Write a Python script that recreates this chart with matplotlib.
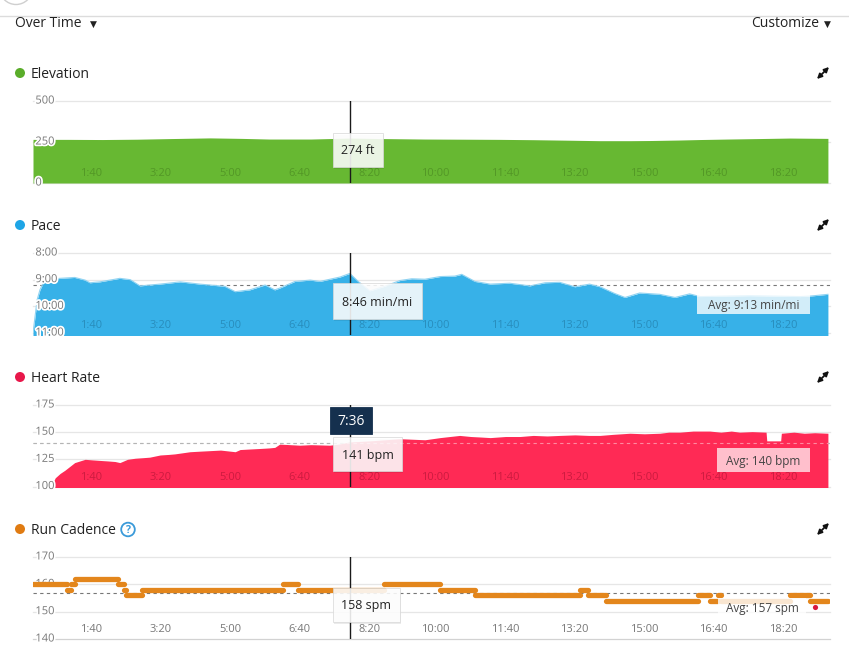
import matplotlib
matplotlib.use("Agg")
import matplotlib.pyplot as plt
import matplotlib.patheffects as pe
from matplotlib.patches import Rectangle, Circle

plt.rcParams['font.family'] = ['Open Sans', 'DejaVu Sans']

W, H = 849, 655

# ---- data (time in seconds from start)
time_ticks = [100, 200, 300, 400, 500, 600, 700, 800, 900, 1000, 1100]
time_labels = ['1:40', '3:20', '5:00', '6:40', '8:20', '10:00',
               '11:40', '13:20', '15:00', '16:40', '18:20']
cursor_t = 456          # 7:36
cursor_label = '7:36'

elev_t = [0, 50, 100, 150, 200, 255, 300, 340, 400, 456, 500, 564, 620,
          672, 720, 770, 816, 860, 888, 930, 960, 1000, 1046, 1089, 1144]
elev_ft = [266, 266, 265, 267, 271, 275, 272, 268, 268, 274, 271, 268, 267,
           266, 264, 261, 258, 258, 259, 262, 265, 268, 271, 274, 272]
elev_ticks = [0, 250, 500]

pace_t = [0, 6, 10, 17, 39, 60, 75, 82, 96, 118, 125, 140, 154, 183, 212,
          240, 276, 291, 312, 334, 348, 355, 377, 399, 413, 442, 456, 468,
          485, 506, 528, 545, 564, 586, 607, 617, 636, 658, 686, 715, 737,
          758, 780, 801, 816, 837, 852, 873, 902, 924, 945, 960, 1032, 1104,
          1118, 1144]
pace_str = ['11:00', '9:45', '9:23', '9:00', '8:57', '8:55', '9:01', '9:07',
            '9:05', '8:59', '8:57', '9:00', '9:14', '9:10', '9:05', '9:10',
            '9:15', '9:27', '9:23', '9:12', '9:23', '9:19', '9:04', '9:01',
            '9:04', '8:54', '8:46', '9:04', '9:25', '9:15', '9:02', '8:58',
            '8:59', '8:53', '8:52', '8:48', '9:04', '9:10', '9:08', '9:14',
            '9:07', '9:06', '9:16', '9:10', '9:16', '9:31', '9:40', '9:30',
            '9:33', '9:40', '9:32', '9:38', '9:36', '9:38', '9:37', '9:33']
pace_ticks = ['8:00', '9:00', '10:00', '11:00']
pace_avg = '9:13'

hr_t = [29, 32, 39, 46, 60, 75, 85, 96, 108, 118, 125, 136, 147, 158, 168,
        183, 195, 204, 215, 226, 240, 255, 270, 291, 298, 312, 327, 340, 348,
        355, 370, 384, 400, 427, 440, 456, 485, 528, 564, 575, 586, 600, 614,
        630, 645, 658, 680, 701, 720, 740, 758, 780, 800, 816, 835, 859, 880,
        902, 915, 931, 950, 974, 990, 1005, 1017, 1035, 1055, 1056, 1076,
        1077, 1095, 1110, 1125, 1144]
hr_bpm = [104, 108, 112, 115, 122, 125, 124.5, 124, 123.5, 123, 122, 125,
          126, 126.5, 127, 129, 129.5, 130, 131, 132, 132.5, 133, 133.5, 132,
          134, 134.5, 135, 135.5, 136, 139, 138.5, 138, 138.5, 138, 139, 141,
          142, 144, 143, 144, 145, 146, 147, 146, 145.5, 145, 146, 146, 147,
          146.5, 147, 147.5, 147, 147, 148, 149, 148.5, 149, 150, 150, 151,
          151, 150, 151, 150, 150.5, 150, 142, 142, 149, 150, 149, 149.5, 149]
hr_ticks = [100, 125, 150, 175]
hr_avg = 140

cad_start = [0, 49, 55, 60, 122, 131, 134, 157, 360, 381, 505, 586, 636, 787,
             799, 824, 957, 974, 986, 990, 1089, 1118]
cad_end = [49, 55, 60, 122, 131, 134, 157, 360, 381, 505, 586, 636, 787, 799,
           824, 957, 974, 986, 990, 1089, 1118, 1144]
cad_spm = [160, 158, 160, 162, 160, 158, 156, 158, 160, 158, 160, 158, 156,
           158, 156, 154, 156, 154, 156, 154, 156, 154]
cad_ticks = [140, 150, 160, 170]
cad_avg = 157
cad_marker_t, cad_marker_v = 1125, 151.7


def mmss(s):
    m, sec = s.split(':')
    return int(m) * 60 + int(sec)


fig = plt.figure(figsize=(W / 100, H / 100), dpi=100)
fig.patch.set_facecolor('white')

halo = [pe.withStroke(linewidth=2.5, foreground='white')]


def panel(top, bottom):
    ax = fig.add_axes([33 / W, 1 - bottom / H, (830 - 33) / W, (bottom - top) / H])
    ax.set_axis_off()
    ax.set_xlim(0, 1147)
    return ax


def grid_and_labels(ax, values, labels, base=None):
    for v, lab in zip(values, labels):
        col = '#d2d2d2' if v == base else '#e6e6e6'
        ax.axhline(v, color=col, lw=0.9, zorder=0, clip_on=False)
        ax.text(0.003, v, lab, transform=ax.get_yaxis_transform(), ha='left',
                va='center', fontsize=8, color='#777', zorder=2.5,
                path_effects=halo, clip_on=False)


def time_labels_on(ax, color, alpha):
    for t, lab in zip(time_ticks, time_labels):
        ax.text(t, 0.11, lab, transform=ax.get_xaxis_transform(), ha='right',
                va='center', fontsize=8, color=color, alpha=alpha, zorder=5)


# ---- Elevation
ax1 = panel(101, 183)
ax1.set_ylim(0, 500)
grid_and_labels(ax1, elev_ticks, ['0', '250', '500'])
ax1.fill_between(elev_t, elev_ft, 0, color='#67b832', lw=0, zorder=2)
time_labels_on(ax1, '#2d5a10', 0.35)
ax1.axvline(cursor_t, color='#1a1a1a', lw=1, zorder=4)

# ---- Pace
ax2 = panel(253, 335)
ax2.set_ylim(664.5, 480)
pace_s = [mmss(p) for p in pace_str]
grid_and_labels(ax2, [mmss(p) for p in pace_ticks], pace_ticks)
ax2.axhline(mmss(pace_avg), color='#777', lw=0.8, ls=(0, (3, 3)), zorder=1)
ax2.fill_between(pace_t, pace_s, 670, color='#37b1e8', lw=0, zorder=2)
ax2.plot(pace_t, pace_s, color='#8fd3f2', lw=0.8, zorder=2)
time_labels_on(ax2, '#0d4a6b', 0.35)
ax2.axvline(cursor_t, color='#1a1a1a', lw=1, zorder=4)

# ---- Heart rate
ax3 = panel(405, 486.5)
ax3.set_ylim(100, 175)
grid_and_labels(ax3, hr_ticks, [str(v) for v in hr_ticks])
ax3.axhline(hr_avg, color='#777', lw=0.8, ls=(0, (3, 3)), zorder=1)
ax3.fill_between(hr_t, hr_bpm, 95, color='#ff2a55', lw=0, zorder=2)
ax3.axhline(hr_avg, color='white', alpha=0.45, lw=0.8, ls=(0, (3, 3)), zorder=3)
time_labels_on(ax3, '#6b0018', 0.35)
ax3.axvline(cursor_t, color='#1a1a1a', lw=1, zorder=4)

# ---- Run cadence
ax4 = panel(557, 639)
ax4.set_ylim(140, 170)
grid_and_labels(ax4, cad_ticks, [str(v) for v in cad_ticks], base=140)
ax4.axhline(cad_avg, color='#777', lw=0.8, ls=(0, (3, 3)), zorder=1)
ax4.hlines(cad_spm, cad_start, cad_end, colors='#e3861c', lw=3.8,
           capstyle='round', zorder=3)
ax4.scatter([cad_marker_t], [cad_marker_v], s=14, color='#d8183f', lw=0, zorder=5)
time_labels_on(ax4, '#777', 1.0)
ax4.axvline(cursor_t, color='#1a1a1a', lw=1, zorder=4)

# ---- overlay in pixel coordinates
ov = fig.add_axes([0, 0, 1, 1])
ov.set_xlim(0, W)
ov.set_ylim(H, 0)
ov.set_axis_off()
ov.patch.set_alpha(0)

ov.plot([0, W], [16, 16], color='#dcdcdc', lw=1)
ov.add_patch(Circle((16, -12), 16.5, fill=False, ec='#cfcfcf', lw=1))
ov.text(15, 23.5, 'Over Time', fontsize=10, va='center', ha='left', color='#222')
ov.text(93, 24, '▼', fontsize=6.5, va='center', ha='center', color='#222')
ov.text(819, 23.5, 'Customize', fontsize=10, va='center', ha='right', color='#222')
ov.text(827, 24, '▼', fontsize=6.5, va='center', ha='center', color='#222')

titles = [('Elevation', 73, '#5aad2a'), ('Pace', 225, '#1ea5e6'),
          ('Heart Rate', 377, '#e8174a'), ('Run Cadence', 529, '#e07b12')]
for name, y, col in titles:
    ov.add_patch(Circle((20, y), 5, color=col, lw=0))
    ov.text(31, y + 1.5, name, fontsize=10, va='center', ha='left', color='#222')
    ov.annotate('', xy=(829, y - 6), xytext=(817, y + 6),
                arrowprops=dict(arrowstyle='<|-|>', color='#111', lw=1.3,
                                mutation_scale=7, shrinkA=0, shrinkB=0))

ov.add_patch(Circle((128, 529.5), 6.8, fill=False, ec='#3a9ad9', lw=1.3))
ov.text(128, 530.5, '?', fontsize=7.5, fontweight='bold', ha='center',
        va='center', color='#3a9ad9')


def tip(x0, y0, x1, y1, text, fc='white', alpha=0.88, tc='#222', fs=9,
        shadow=True, ec='#d8d8d8'):
    if shadow:
        ov.add_patch(Rectangle((x0 + 1.5, y0 + 1.5), x1 - x0, y1 - y0,
                               fc='#000', alpha=0.08, lw=0))
    ov.add_patch(Rectangle((x0, y0), x1 - x0, y1 - y0, fc=fc, alpha=alpha,
                           ec=ec, lw=0.6))
    ov.text((x0 + x1) / 2, (y0 + y1) / 2 + 1, text, ha='center', va='center',
            fontsize=fs, color=tc)


tip(333, 133, 383, 167, '274 ft')
tip(333, 283, 422, 319, '8:46 min/mi')
tip(330, 407, 372, 434, cursor_label, fc='#15304e', alpha=1, tc='white',
    fs=10, shadow=False, ec='#15304e')
tip(333, 437, 402, 471, '141 bpm')
tip(333, 588, 400, 622, '158 spm')

tip(697, 295, 810, 314, 'Avg: ' + pace_avg + ' min/mi', alpha=0.78,
    tc='#444', fs=8.5, shadow=False, ec='none')
tip(717, 448, 810, 472, 'Avg: %d bpm' % hr_avg, alpha=0.7, tc='#444',
    fs=8.5, shadow=False, ec='none')
tip(718, 598, 806, 617, 'Avg: %d spm' % cad_avg, alpha=0.8, tc='#444',
    fs=8.5, shadow=False, ec='none')

fig.savefig('out.png', dpi=100, facecolor='white')
